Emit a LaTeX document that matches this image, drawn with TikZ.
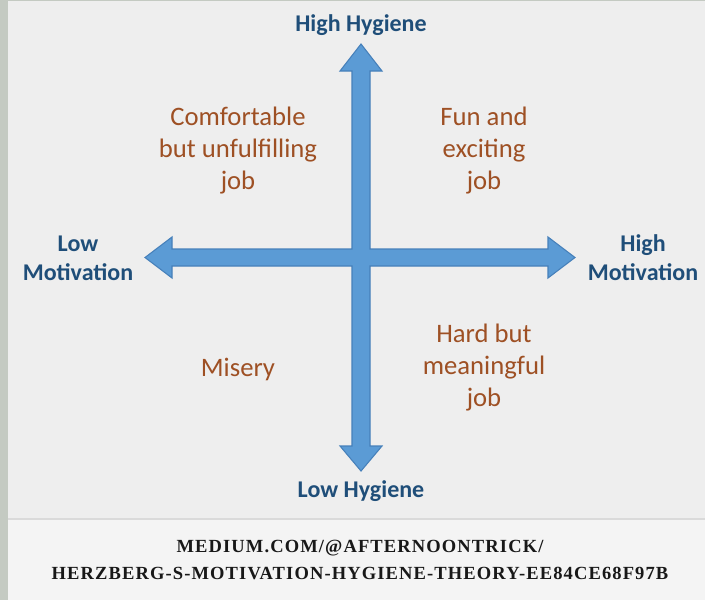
\documentclass[tikz,border=0pt]{standalone}
\usepackage{fontspec}
\setmainfont{Carlito}
\newfontfamily\capfont{Liberation Serif}[LetterSpace=6]
\definecolor{bgmain}{RGB}{238,238,238}
\definecolor{bgband}{RGB}{244,244,244}
\definecolor{sepline}{RGB}{218,218,218}
\definecolor{strip}{RGB}{196,202,194}
\definecolor{arrowfill}{RGB}{91,155,213}
\definecolor{arrowedge}{RGB}{70,128,186}
\definecolor{axistext}{RGB}{31,78,121}
\definecolor{quadtext}{RGB}{158,80,36}
\definecolor{captext}{RGB}{24,24,24}
\tikzset{
  axislabel/.style={text=axistext,font=\fontsize{18}{21.75}\selectfont\bfseries,align=center,inner sep=0pt},
  quadlabel/.style={text=quadtext,font=\fontsize{20}{24}\selectfont,align=center,inner sep=0pt},
  caplabel/.style={text=captext,font=\capfont\bfseries\fontsize{13.9}{18}\selectfont,align=center,inner sep=0pt},
  bigarrow/.style={fill=arrowfill,draw=arrowedge,line width=0.8pt,line join=miter}
}
\begin{document}
\begin{tikzpicture}[x=0.75pt,y=-0.75pt]
\useasboundingbox (0,0) rectangle (705,600);
% background
\fill[strip] (0,0) rectangle (705,600);
\fill[bgmain] (8,1) rectangle (705,519);
\fill[bgband] (8,519) rectangle (705,600);
\draw[sepline,line width=1pt] (8,519) -- (705,519);
% cross of four arrows
\draw[bigarrow] (361,44) -- (382,71) -- (370,71) -- (370,249) -- (548,249) -- (548,237)
  -- (575,257.5) -- (548,278) -- (548,266) -- (370,266) -- (370,446) -- (382,446)
  -- (361,471) -- (340,446) -- (352,446) -- (352,266) -- (172,266) -- (172,278)
  -- (145,257.5) -- (172,237) -- (172,249) -- (352,249) -- (352,71) -- (340,71) -- cycle;
% axis labels
\node[axislabel] (hh) at (361,25) {High Hygiene};
\node[axislabel] (lh) at (361,491) {Low Hygiene};
\node[axislabel] (lm) at (78,258) {Low\\Motivation};
\node[axislabel] (hm) at (643,258) {High\\Motivation};
% quadrant labels
\node[quadlabel] (q1) at (238,151) {Comfortable\\but unfulfilling\\job};
\node[quadlabel] (q2) at (484,151) {Fun and\\exciting\\job};
\node[quadlabel] (q3) at (238,369) {Misery};
\node[quadlabel] (q4) at (484,368) {Hard but\\meaningful\\job};
% caption
\node[caplabel] (c1) at (360,548) {MEDIUM.COM/@AFTERNOONTRICK/};
\node[caplabel] (c2) at (360,573) {HERZBERG-S-MOTIVATION-HYGIENE-THEORY-EE84CE68F97B};
\end{tikzpicture}
\end{document}
